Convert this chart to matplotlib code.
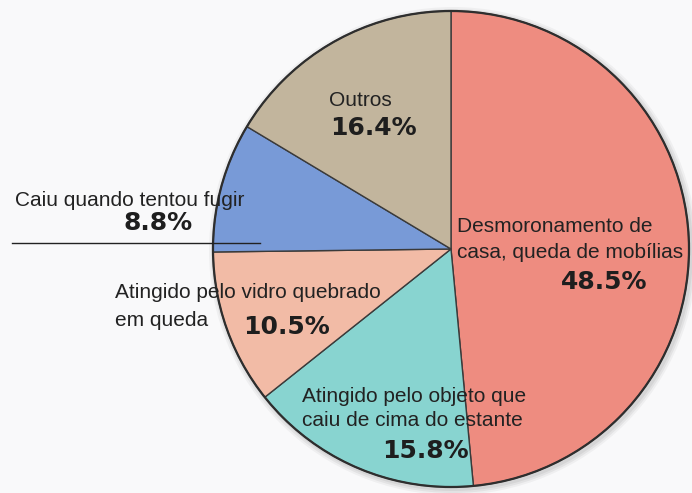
import matplotlib.pyplot as plt
from matplotlib.patches import Circle

# Data (clockwise from the top)
categories = [["Desmoronamento de", "casa, queda de mobílias"],
              ["Atingido pelo objeto que", "caiu de cima do estante"],
              ["Atingido pelo vidro quebrado", "em queda"],
              ["Caiu quando tentou fugir"],
              ["Outros"]]
shares = [48.5, 15.8, 10.5, 8.8, 16.4]
pct_labels = ["48.5%", "15.8%", "10.5%", "8.8%", "16.4%"]
colors = ["#ee8c80", "#88d4d0", "#f2bba6", "#789ad7", "#c2b59d"]

W, H = 692, 493
fig = plt.figure(figsize=(W / 100, H / 100), dpi=100, facecolor="#f9f9fa")
ax = fig.add_axes([0, 0, 1, 1])
ax.set_facecolor("#f9f9fa")

# pie in pixel coordinates, y measured upward
cx, cy, r = 451, H - 249, 238

# soft shadow around the rim
for i, a in enumerate([0.06, 0.05, 0.04]):
    ax.add_patch(Circle((cx + 2, cy - 2), r + 2 + 2 * i, color="black",
                        alpha=a, lw=0, zorder=0))

wedges, _ = ax.pie(shares, colors=colors, startangle=90, counterclock=False,
                   center=(cx, cy), radius=r,
                   wedgeprops=dict(edgecolor="#3a3a3a", linewidth=1.0))
ax.add_patch(Circle((cx, cy), r, fill=False, edgecolor="#2e2e2e", lw=1.6, zorder=3))

ax.set_xlim(0, W)
ax.set_ylim(0, H)
ax.set_aspect("equal")
ax.axis("off")

lab_kw = dict(fontsize=15, color="#222222", family="Liberation Sans",
              va="center", ha="left", zorder=5)
pct_kw = dict(fontsize=18, color="#1e1e1e", family="DejaVu Sans",
              fontweight="bold", va="center", ha="center", zorder=5)

# (label x, first line y, line step, pct x, pct y) in top-left pixel coords
placements = [
    (457, 226, 26, 604, 282),
    (302, 396, 25, 425, 451),
    (115, 293, 27, 287, 327),
    (15, 200, 0, 158, 223),
    (329, 101, 0, 373, 128),
]

for lines, pct, (lx, ly, step, px, py) in zip(categories, pct_labels, placements):
    for k, line in enumerate(lines):
        ax.text(lx, H - (ly + k * step), line, **lab_kw)
    ax.text(px, H - py, pct, **pct_kw)

# underline below the "Caiu quando tentou fugir" label
ax.plot([12, 260], [H - 243, H - 243], color="#222222", lw=1.0, zorder=5)

fig.savefig("out.png", dpi=100, facecolor=fig.get_facecolor())
